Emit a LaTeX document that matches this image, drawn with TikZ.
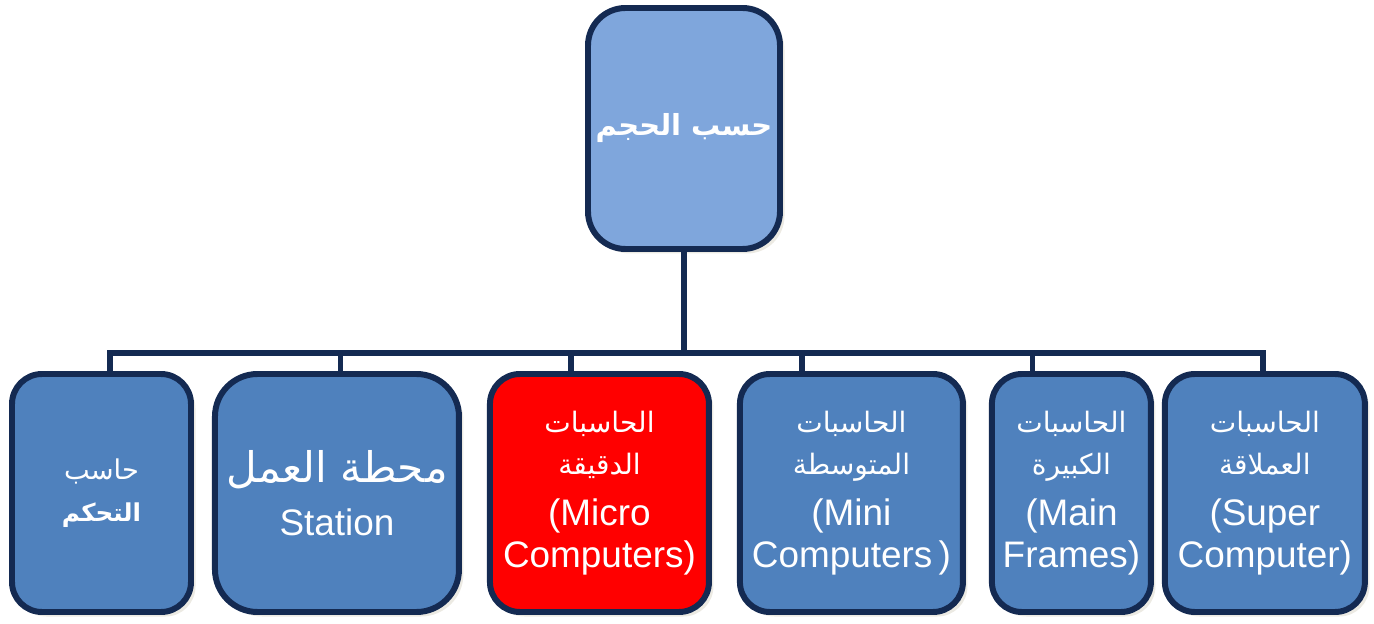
\documentclass[tikz,border=0pt]{standalone}
\usepackage{fontspec}
\setmainfont{Liberation Sans}
\newfontfamily\arabicfont[Script=Arabic]{DejaVu Sans}
\TeXXeTstate=1
\usetikzlibrary{positioning, shadows}

\definecolor{navy}{HTML}{142A52}
\definecolor{boxblue}{HTML}{4F81BD}
\definecolor{topblue}{HTML}{7FA6DC}
\definecolor{shade}{HTML}{ECEAE3}

\newcommand{\ar}[1]{{\arabicfont\beginR #1\endR}}

\begin{document}
\begin{tikzpicture}[
        box/.style={draw=navy, line width=3.4pt, fill=boxblue, text=white,
            rounded corners=0.6cm, minimum height=4.76cm, inner sep=0pt, align=center,
            font=\fontsize{21}{24}\selectfont,
            drop shadow={shadow xshift=0.09cm, shadow yshift=-0.09cm, fill=shade, opacity=1}},
        wire/.style={draw=navy, line width=3pt, line cap=rect}
    ]
        \useasboundingbox (0,0) rectangle (27.48,-12.48);
        \node[box, fill=topblue, minimum width=3.84cm, minimum height=4.82cm, rounded corners=0.75cm] (size) at (13.68,-2.57)
            {\fontsize{16.5}{20}\selectfont\bfseries\ar{حسب الحجم}};
        \node[box, minimum width=3.58cm] (control) at (2.03,-9.86)
            {\fontsize{15.5}{20}\selectfont\ar{حاسب}\\ \fontsize{14}{20}\selectfont\bfseries\ar{التحكم}};
        \node[box, minimum width=4.88cm, rounded corners=0.85cm] (station) [right=0.36cm of control]
            {\fontsize{24}{30}\selectfont\ar{محطة العمل}\\[6pt] Station};
        \node[box, fill=red, minimum width=4.38cm] (micro) [right=0.5cm of station]
            {\fontsize{16}{21}\selectfont\ar{الحاسبات}\\ \fontsize{16}{20}\selectfont\ar{الدقيقة}\\[5pt] (Micro\\ Computers)};
        \node[box, minimum width=4.46cm] (mini) [right=0.5cm of micro]
            {\fontsize{16}{21}\selectfont\ar{الحاسبات}\\ \fontsize{16}{20}\selectfont\ar{المتوسطة}\\[5pt] (Mini\\ Computers\,)};
        \node[box, minimum width=3.18cm] (frames) [right=0.46cm of mini]
            {\fontsize{16}{21}\selectfont\ar{الحاسبات}\\ \fontsize{16}{20}\selectfont\ar{الكبيرة}\\[5pt] (Main\\ Frames)};
        \node[box, minimum width=4.0cm] (super) [right=0.16cm of frames]
            {\fontsize{16}{21}\selectfont\ar{الحاسبات}\\ \fontsize{16}{20}\selectfont\ar{العملاقة}\\[5pt] (Super\\ Computer)};

        % bus and drops
        \coordinate (bus) at (13.68,-7.06);
        \coordinate (d1) at (2.20,-7.06);
        \coordinate (d2) at (6.81,-7.06);
        \coordinate (d3) at (11.42,-7.06);
        \coordinate (d4) at (16.04,-7.06);
        \coordinate (d5) at (20.65,-7.06);
        \coordinate (d6) at (25.26,-7.06);
        \draw[wire] (size) -- (bus);
        \draw[wire] (d1) -- (d6);
        \foreach \d/\n in {d1/control, d2/station, d3/micro, d4/mini, d5/frames, d6/super}
            \draw[wire, line cap=butt] (\d) -- (\d |- \n.north);
\end{tikzpicture}
\end{document}
